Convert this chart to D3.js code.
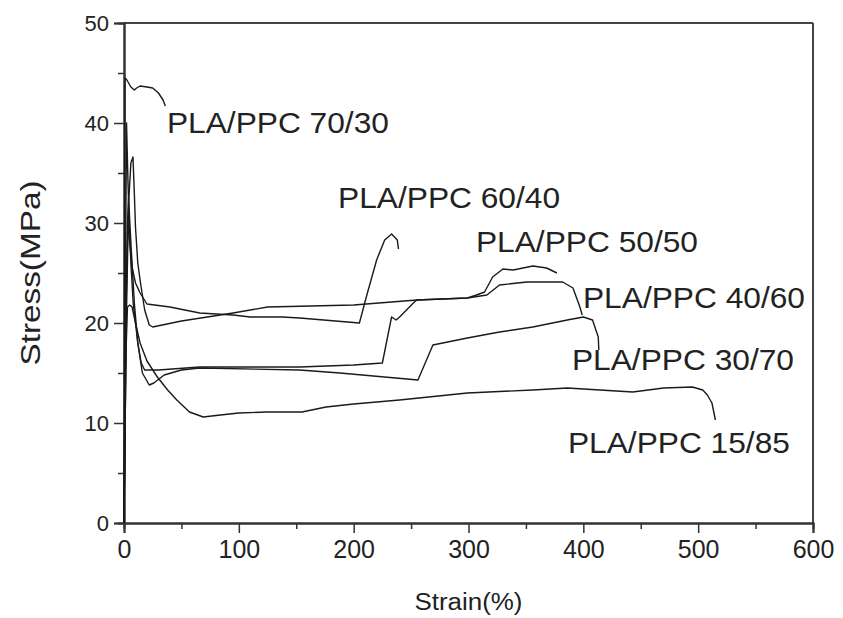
<!DOCTYPE html>
<html>
<head>
<meta charset="utf-8">
<script src="https://cdn.jsdelivr.net/npm/d3@7"></script>
<style>
  body { margin: 0; background: #fff; }
  text { font-family: "Liberation Sans", Arial, sans-serif; fill: #222; }
</style>
</head>
<body>
<div id="chart"></div>
<script>
// strain (%) , stress (MPa)
var pla7030 = [[0,0],[0.4,20],[0.8,44.5],[2,44.4],[3.5,44.1],[6,43.6],[9,43.3],[11,43.5],[14,43.7],[20,43.6],[25,43.5],[30,43.0],[34,42.3],[36,41.7]];
var pla6040 = [[0,0],[1,20],[2.2,40],[3.5,34],[5,28],[7,25.6],[10,24],[14,23],[20,21.9],[40,21.6],[66,21.0],[95,20.8],[110,20.6],[138,20.6],[153,20.5],[205,20.0],[211,22.6],[220,26.3],[227,28.3],[233,28.9],[238,28.3],[239,27.4]];
var pla5050 = [[0,0],[2,20],[4,32],[6,36],[7.8,36.6],[9,33],[10,29.6],[12,26],[14,24.3],[18,21.3],[22,19.8],[25,19.6],[50,20.2],[95,21.0],[125,21.6],[200,21.8],[255,22.3],[299,22.5],[307,22.8],[314,23.1],[321,24.6],[330,25.4],[339,25.3],[356,25.7],[368,25.5],[377,25.0]];
var pla4060 = [[0,0],[1.5,20],[3,30],[4,32.5],[6,28],[9,22],[12,18],[15,16],[18,15.3],[30,15.3],[66,15.6],[153,15.6],[200,15.8],[225,16.0],[233,20.6],[237,20.3],[240,20.6],[246,21.3],[252,22.0],[255,22.3],[299,22.5],[316,22.8],[327,23.8],[351,24.1],[382,24.1],[391,23.5],[397,21.6],[399,20.8]];
var pla3070 = [[0,0],[1.5,20],[3,28],[4.5,30],[6,26],[8,22],[12,18],[16,15],[22,13.8],[26,14.0],[35,14.8],[50,15.3],[66,15.5],[153,15.3],[188,15.0],[256,14.3],[269,17.8],[299,18.5],[327,19.1],[356,19.6],[386,20.3],[400,20.6],[408,20.3],[413,18.6],[413.5,17.3]];
var pla1585 = [[0,0],[1,10],[2,18],[3,21.6],[5,21.8],[7,21.6],[10,20],[14,18],[20,16.2],[29,14.6],[38,13.3],[46,12.3],[57,11.1],[69,10.6],[84,10.8],[100,11.0],[124,11.1],[155,11.1],[176,11.6],[200,11.9],[240,12.3],[299,13.0],[356,13.3],[386,13.5],[443,13.1],[470,13.5],[495,13.6],[504,13.3],[508,12.8],[512,12.0],[515,10.3]];

var seriesNames = ["PLA/PPC 70/30","PLA/PPC 60/40","PLA/PPC 50/50","PLA/PPC 40/60","PLA/PPC 30/70","PLA/PPC 15/85"];
var seriesData = [pla7030, pla6040, pla5050, pla4060, pla3070, pla1585];
// label anchors in data units (strain, stress)
var labelStrain = [37.4, 186.4, 306.5, 399.7, 390.1, 386.6];
var labelStress = [39.0, 31.5, 27.1, 21.5, 15.3, 7.0];

var xTicks = [0,100,200,300,400,500,600];
var yTicks = [0,10,20,30,40,50];

var width = 843, height = 618;
var margin = {top: 23, right: 30, bottom: 95, left: 124};

var svg = d3.select("#chart")
  .append("svg")
  .attr("width", width)
  .attr("height", height);

var x = d3.scaleLinear().domain([0,600]).range([margin.left, width - margin.right]);
var y = d3.scaleLinear().domain([0,50]).range([height - margin.bottom, margin.top]);

// frame top + right
svg.append("line")
  .attr("x1", x(0)).attr("x2", x(600))
  .attr("y1", y(50)).attr("y2", y(50))
  .style("stroke", "#444").style("stroke-width", "2px");
svg.append("line")
  .attr("x1", x(600)).attr("x2", x(600))
  .attr("y1", y(50)).attr("y2", y(0))
  .style("stroke", "#444").style("stroke-width", "2px");

// axes
var xAxis = svg.append("g")
  .attr("transform", "translate(0," + y(0) + ")")
  .call(d3.axisBottom(x).tickValues(xTicks).tickSize(10).tickPadding(7).tickFormat(d3.format("d")));
svg.append("g")
  .attr("transform", "translate(0," + y(0) + ")")
  .call(d3.axisBottom(x).tickValues(d3.range(50,600,100)).tickSize(6).tickFormat(""));

var yAxis = svg.append("g")
  .attr("transform", "translate(" + x(0) + ",0)")
  .call(d3.axisLeft(y).tickValues(yTicks).tickSize(10).tickPadding(5).tickFormat(d3.format("d")));
svg.append("g")
  .attr("transform", "translate(" + x(0) + ",0)")
  .call(d3.axisLeft(y).tickValues(d3.range(5,50,10)).tickSize(6).tickFormat(""));

svg.selectAll(".domain").style("stroke", "#333").style("stroke-width", "2px");
svg.selectAll(".tick line").style("stroke", "#333").style("stroke-width", "1.5px");
xAxis.selectAll(".tick text").style("font-size", "25px").style("font-family", "Liberation Sans, Arial, sans-serif").attr("fill", "#222");
yAxis.selectAll(".tick text").style("font-size", "22px").style("font-family", "Liberation Sans, Arial, sans-serif").attr("fill", "#222");

// axis titles
svg.append("text")
  .text("Strain(%)")
  .attr("x", (x(0) + x(600)) / 2)
  .attr("y", 610)
  .attr("text-anchor", "middle")
  .attr("textLength", 108)
  .attr("lengthAdjust", "spacingAndGlyphs")
  .style("font-size", "23px");

svg.append("text")
  .text("Stress(MPa)")
  .attr("transform", "translate(40," + (y(0) + y(50)) / 2 + ") rotate(-90)")
  .attr("text-anchor", "middle")
  .attr("textLength", 185)
  .attr("lengthAdjust", "spacingAndGlyphs")
  .style("font-size", "27px");

// curves
var line = d3.line()
  .x(function(d) { return x(d[0]); })
  .y(function(d) { return y(d[1]); });

seriesData.forEach(function(data) {
  svg.append("path")
    .datum(data)
    .attr("d", line)
    .style("fill", "none")
    .style("stroke", "#1a1a1a")
    .style("stroke-width", "1.4px")
    .style("stroke-linejoin", "round");
});

// series labels
seriesNames.forEach(function(name, i) {
  svg.append("text")
    .text(name)
    .attr("x", x(labelStrain[i]))
    .attr("y", y(labelStress[i]))
    .attr("textLength", 222)
    .attr("lengthAdjust", "spacingAndGlyphs")
    .style("font-size", "29px");
});
</script>
</body>
</html>
